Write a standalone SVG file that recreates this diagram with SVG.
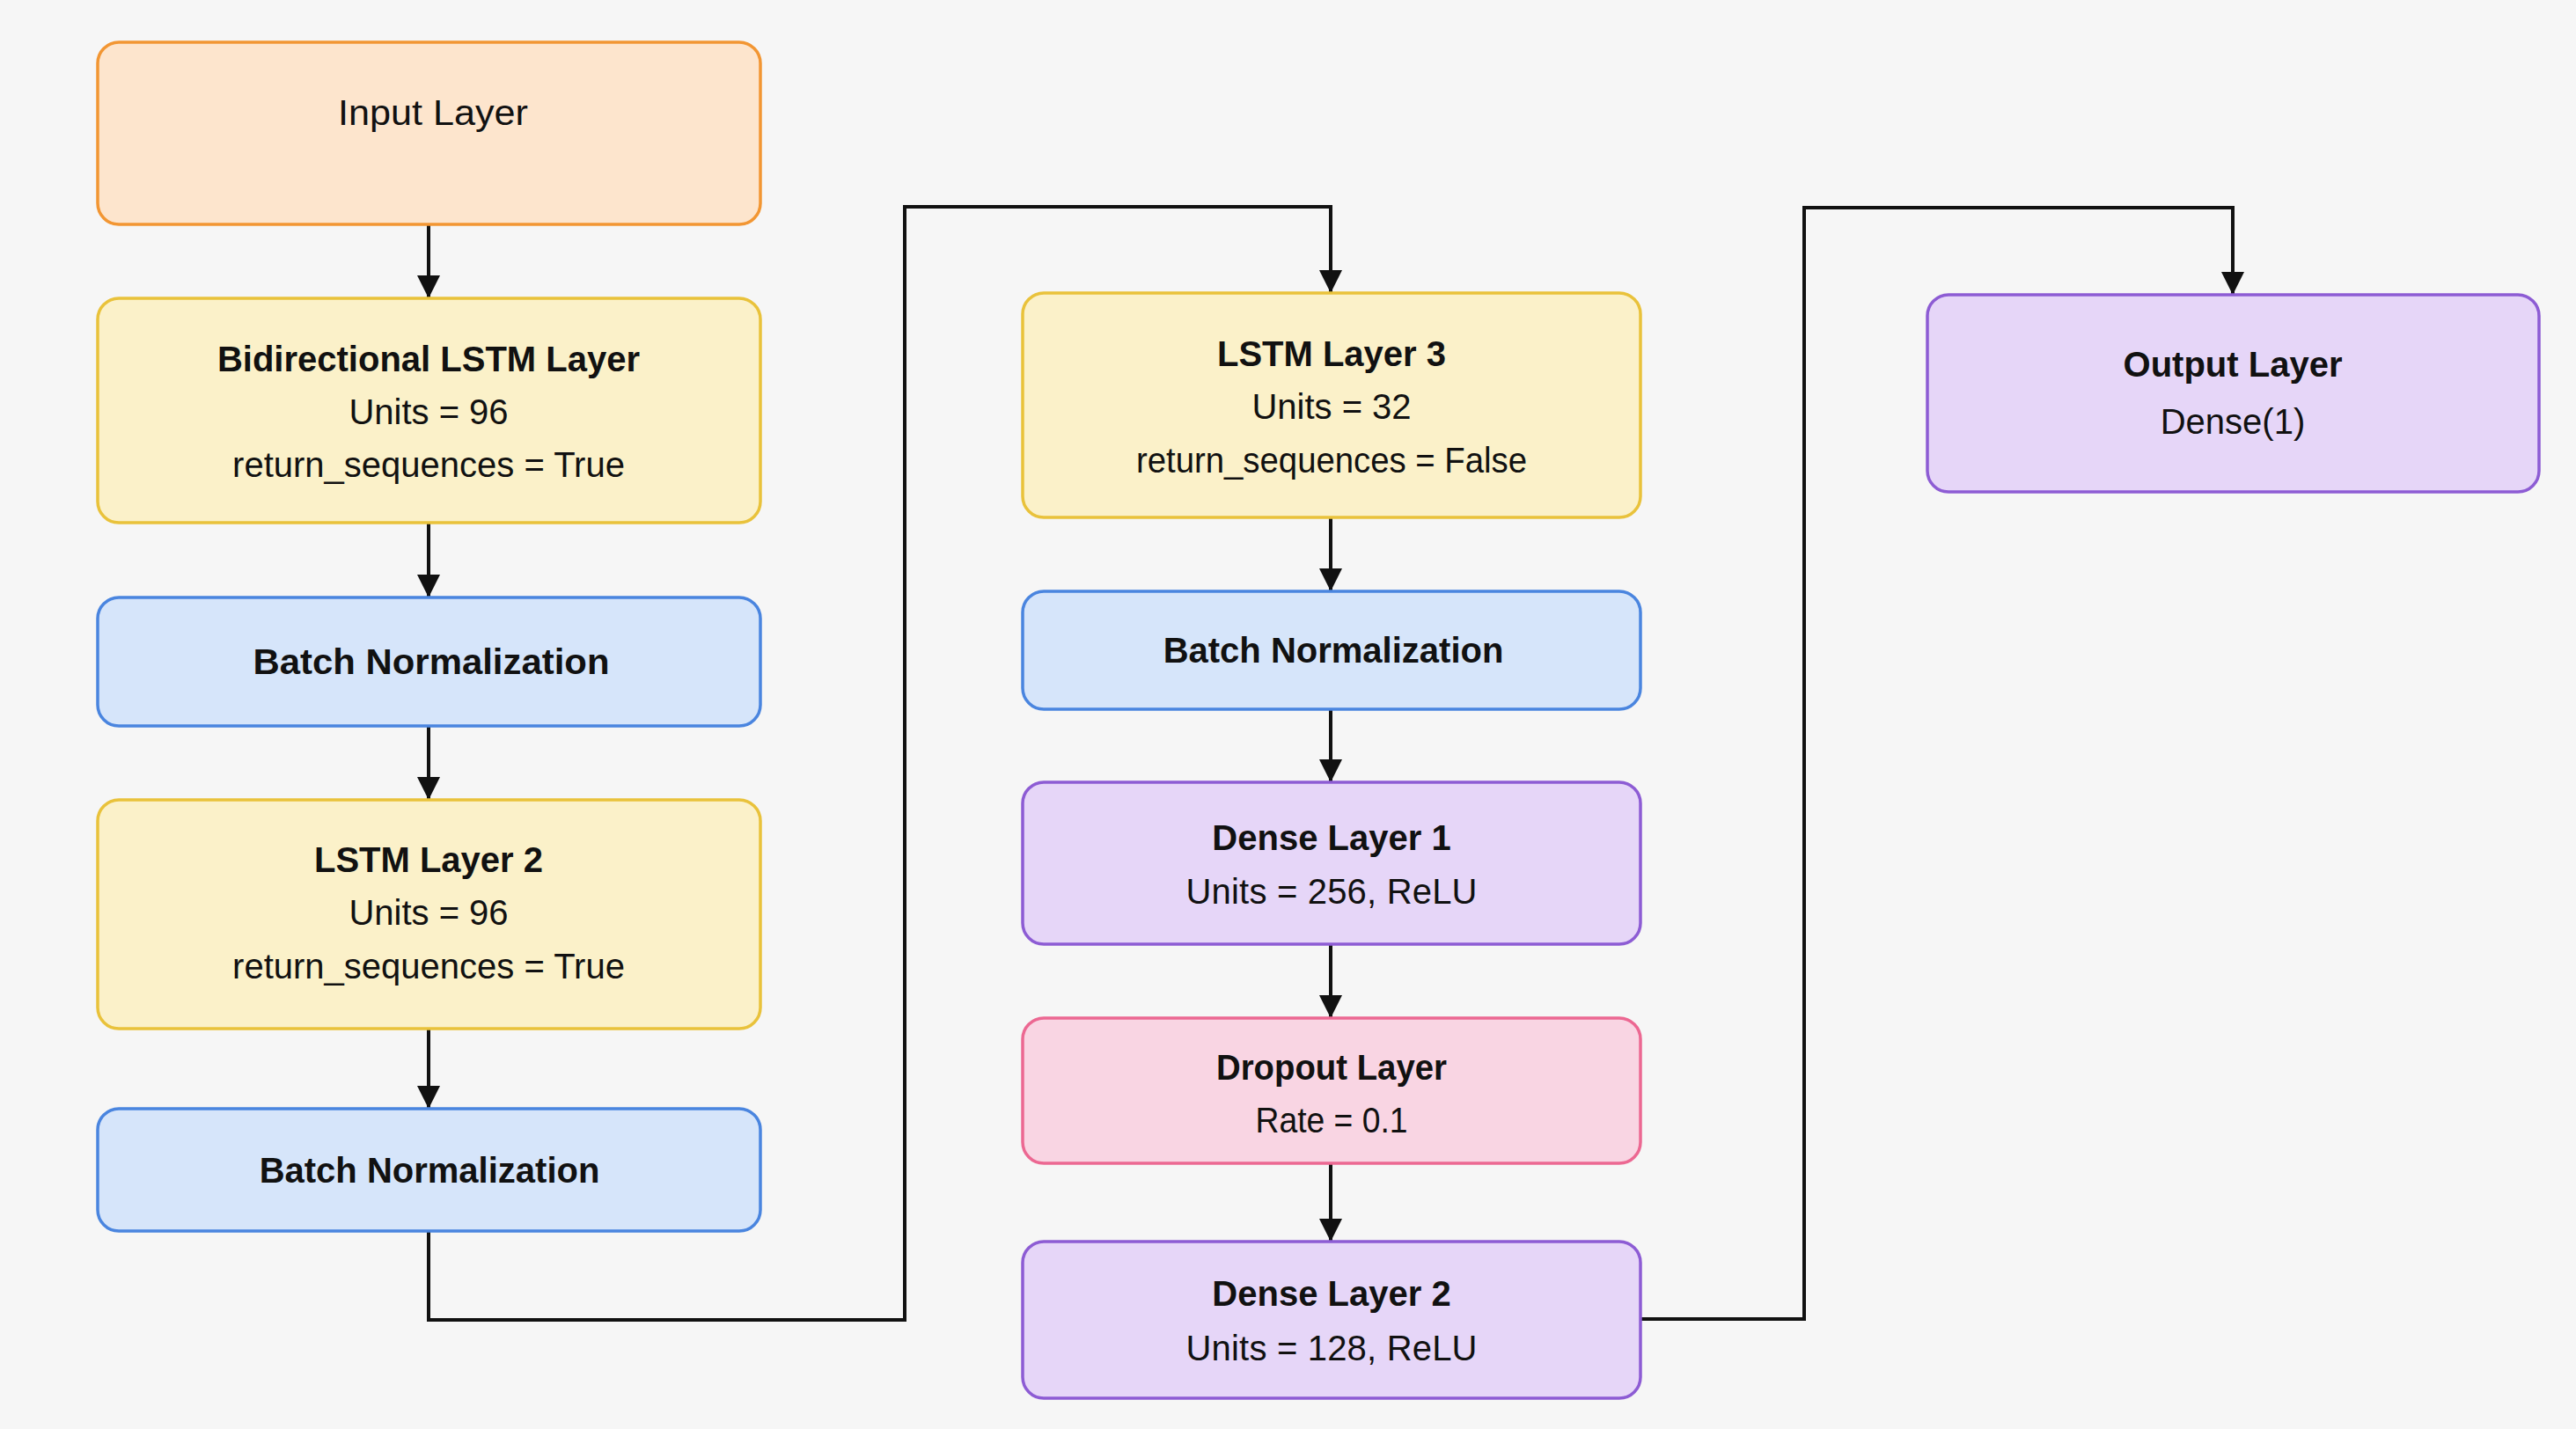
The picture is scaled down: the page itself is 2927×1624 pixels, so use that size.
<svg xmlns="http://www.w3.org/2000/svg" width="2927" height="1624" viewBox="0 0 2927 1624">
<style>
  .box { stroke-width: 3.5; }
  .orange { fill: #fde5cd; stroke: #f29633; }
  .yellow { fill: #fbf1c9; stroke: #e9c23b; }
  .blue { fill: #d6e5fa; stroke: #4a85df; }
  .purple { fill: #e6d6f8; stroke: #8d5cd4; }
  .pink { fill: #f9d5e3; stroke: #ec6892; }
  text { font-family: "Liberation Sans", Arial, sans-serif; font-size: 40px; fill: #111111; text-anchor: middle; }
  .t { font-weight: bold; }
  .conn { fill: none; stroke: #111111; stroke-width: 4; }
</style>
<defs>
  <marker id="arrow" markerUnits="userSpaceOnUse" markerWidth="26" markerHeight="26" refX="26" refY="13" orient="auto">
    <path d="M0,0 L26,13 L0,26 z" fill="#111111"/>
  </marker>
</defs>
<rect width="2927" height="1624" fill="#f6f6f6"/>

<g id="connectors">
  <line class="conn" x1="487" y1="255" x2="487" y2="339" marker-end="url(#arrow)"/>
  <line class="conn" x1="487" y1="594" x2="487" y2="679" marker-end="url(#arrow)"/>
  <line class="conn" x1="487" y1="825" x2="487" y2="909" marker-end="url(#arrow)"/>
  <line class="conn" x1="487" y1="1169" x2="487" y2="1260" marker-end="url(#arrow)"/>
  <path class="conn" d="M487,1399 V1500 H1028 V235 H1512 V333" marker-end="url(#arrow)"/>
  <line class="conn" x1="1512" y1="588" x2="1512" y2="672" marker-end="url(#arrow)"/>
  <line class="conn" x1="1512" y1="806" x2="1512" y2="889" marker-end="url(#arrow)"/>
  <line class="conn" x1="1512" y1="1073" x2="1512" y2="1157" marker-end="url(#arrow)"/>
  <line class="conn" x1="1512" y1="1322" x2="1512" y2="1411" marker-end="url(#arrow)"/>
  <path class="conn" d="M1864,1499 H2050 V236 H2537 V335" marker-end="url(#arrow)"/>
</g>

<g id="input-layer">
  <rect class="box orange" x="111" y="48" width="753" height="207" rx="24"/>
  <text x="492" y="142" textLength="216" lengthAdjust="spacingAndGlyphs">Input Layer</text>
</g>

<g id="bilstm-layer">
  <rect class="box yellow" x="111" y="339" width="753" height="255" rx="24"/>
  <text class="t" x="487" y="422">Bidirectional LSTM Layer</text>
  <text x="487" y="482">Units = 96</text>
  <text x="487" y="542">return_sequences = True</text>
</g>

<g id="batchnorm-1">
  <rect class="box blue" x="111" y="679" width="753" height="146" rx="24"/>
  <text class="t" x="490" y="766" textLength="405" lengthAdjust="spacingAndGlyphs">Batch Normalization</text>
</g>

<g id="lstm-layer-2">
  <rect class="box yellow" x="111" y="909" width="753" height="260" rx="24"/>
  <text class="t" x="487" y="991">LSTM Layer 2</text>
  <text x="487" y="1051">Units = 96</text>
  <text x="487" y="1112">return_sequences = True</text>
</g>

<g id="batchnorm-2">
  <rect class="box blue" x="111" y="1260" width="753" height="139" rx="24"/>
  <text class="t" x="488" y="1344">Batch Normalization</text>
</g>

<g id="lstm-layer-3">
  <rect class="box yellow" x="1162" y="333" width="702" height="255" rx="24"/>
  <text class="t" x="1513" y="416">LSTM Layer 3</text>
  <text x="1513" y="476">Units = 32</text>
  <text x="1513" y="537" textLength="444" lengthAdjust="spacingAndGlyphs">return_sequences = False</text>
</g>

<g id="batchnorm-3">
  <rect class="box blue" x="1162" y="672" width="702" height="134" rx="24"/>
  <text class="t" x="1515" y="753">Batch Normalization</text>
</g>

<g id="dense-layer-1">
  <rect class="box purple" x="1162" y="889" width="702" height="184" rx="24"/>
  <text class="t" x="1513" y="966">Dense Layer 1</text>
  <text x="1513" y="1027" textLength="331" lengthAdjust="spacing">Units = 256, ReLU</text>
</g>

<g id="dropout-layer">
  <rect class="box pink" x="1162" y="1157" width="702" height="165" rx="24"/>
  <text class="t" x="1513" y="1227" textLength="262" lengthAdjust="spacingAndGlyphs">Dropout Layer</text>
  <text x="1513" y="1287" textLength="173" lengthAdjust="spacingAndGlyphs">Rate = 0.1</text>
</g>

<g id="dense-layer-2">
  <rect class="box purple" x="1162" y="1411" width="702" height="178" rx="24"/>
  <text class="t" x="1513" y="1484">Dense Layer 2</text>
  <text x="1513" y="1546" textLength="331" lengthAdjust="spacing">Units = 128, ReLU</text>
</g>

<g id="output-layer">
  <rect class="box purple" x="2190" y="335" width="695" height="224" rx="24"/>
  <text class="t" x="2537" y="428">Output Layer</text>
  <text x="2537" y="493">Dense(1)</text>
</g>
</svg>
